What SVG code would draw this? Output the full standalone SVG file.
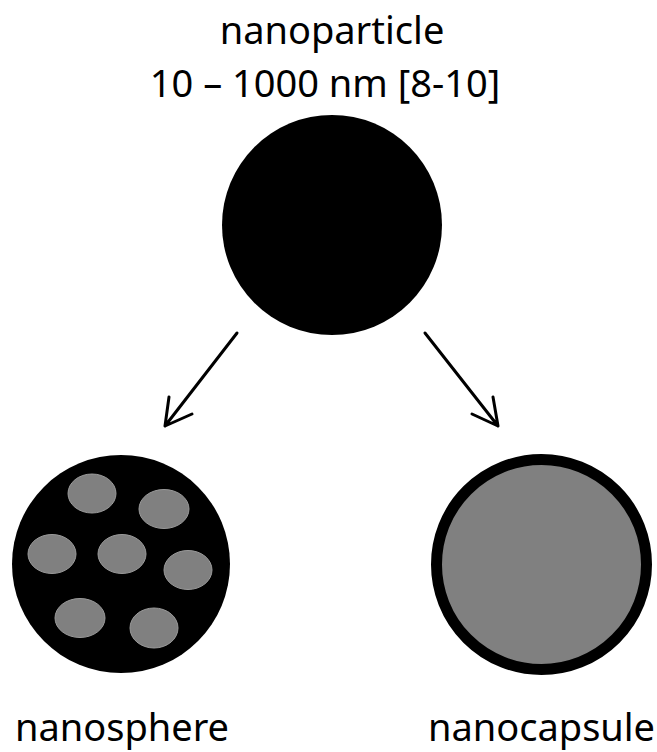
<svg xmlns="http://www.w3.org/2000/svg" width="657" height="752" viewBox="0 0 657 752">
  <style>
    .label { font-family: "Noto Sans", "Open Sans", "DejaVu Sans", sans-serif; font-size: 38px; fill: #000; text-anchor: middle; }
    .arrow { stroke: #000; stroke-width: 3; fill: none; stroke-linecap: round; stroke-linejoin: round; }
    .core { fill: #808080; stroke: #9a9a9a; stroke-width: 1; }
  </style>
  <rect width="657" height="752" fill="#fff"/>

  <!-- parent particle -->
  <g id="nanoparticle">
    <text class="label" x="332" y="44">nanoparticle</text>
    <text class="label" x="325" y="97">10 – 1000 nm [8-10]</text>
    <circle cx="332" cy="225" r="110" fill="#000"/>
  </g>

  <!-- connectors -->
  <g id="connectors">
    <path class="arrow" d="M237 333 L165 426 M169 397 L165 426 L192 414"/>
    <path class="arrow" d="M425 333 L498 426 M493 397 L498 426 L472 414"/>
  </g>

  <!-- matrix type: solid sphere with dispersed domains -->
  <g id="nanosphere">
    <circle cx="121" cy="564" r="109" fill="#000"/>
    <ellipse class="core" cx="92" cy="493.5" rx="24" ry="19.5"/>
    <ellipse class="core" cx="164" cy="509" rx="25" ry="19.5"/>
    <ellipse class="core" cx="52" cy="554" rx="24" ry="19.5"/>
    <ellipse class="core" cx="122" cy="554" rx="24" ry="19.5"/>
    <ellipse class="core" cx="188" cy="570" rx="24" ry="19.5"/>
    <ellipse class="core" cx="80" cy="618" rx="25" ry="19.5"/>
    <ellipse class="core" cx="154" cy="628" rx="24" ry="20"/>
    <text class="label" x="122" y="741">nanosphere</text>
  </g>

  <!-- reservoir type: core enclosed by a shell -->
  <g id="nanocapsule">
    <circle cx="541.5" cy="564.5" r="105" fill="#808080" stroke="#000" stroke-width="11"/>
    <text class="label" x="541.5" y="741">nanocapsule</text>
  </g>
</svg>
